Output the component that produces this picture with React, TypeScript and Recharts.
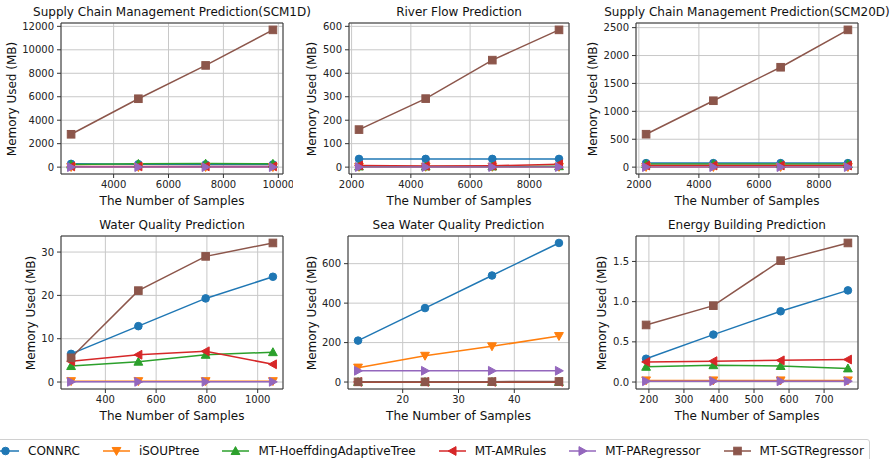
import React from 'react';
import { LineChart, Line, XAxis, YAxis, CartesianGrid, ReferenceArea } from 'recharts';

const SERIES = ['CONNRC', 'iSOUPtree', 'MT-HoeffdingAdaptiveTree', 'MT-AMRules', 'MT-PARegressor', 'MT-SGTRegressor'];
const COLORS = ['#1f77b4', '#ff7f0e', '#2ca02c', '#d62728', '#9467bd', '#8c564b'];
const MARKERS = ['circle', 'down', 'up', 'left', 'right', 'square'];

// samples per panel, then one list of values per series (same order as SERIES)
const scm1dSamples = [2451, 4902, 7352, 9803];
const scm1dMemory = [
    [280, 250, 230, 230],
    [5, 5, 5, 5],
    [220, 280, 300, 290],
    [60, 60, 60, 60],
    [2, 2, 2, 2],
    [2800, 5830, 8670, 11700],
];

const riverSamples = [2250, 4500, 6750, 9000];
const riverMemory = [
    [35, 35, 35, 35],
    [1, 1, 1, 1],
    [3, 3, 3, 4],
    [7, 5, 6, 12],
    [0.5, 0.5, 0.5, 0.5],
    [160, 292, 456, 585],
];

const scm20dSamples = [2241, 4483, 6724, 8966];
const scm20dMemory = [
    [72, 72, 72, 72],
    [2, 2, 2, 2],
    [55, 55, 55, 55],
    [29, 29, 29, 29],
    [1, 1, 1, 1],
    [590, 1190, 1790, 2460],
];

const waterSamples = [265, 530, 795, 1060];
const waterMemory = [
    [6.5, 12.9, 19.3, 24.3],
    [0.2, 0.2, 0.2, 0.2],
    [3.7, 4.7, 6.3, 6.9],
    [4.8, 6.3, 7.1, 4.1],
    [0.05, 0.05, 0.05, 0.05],
    [5.6, 21.1, 29.0, 32.1],
];

const seaSamples = [12, 24, 36, 48];
const seaMemory = [
    [210, 375, 540, 705],
    [73, 133, 181, 233],
    [0.5, 0.5, 0.5, 0.5],
    [0.8, 0.8, 0.8, 0.8],
    [57, 57, 57, 57],
    [1, 1, 2, 3],
];

const energySamples = [192, 384, 576, 768];
const energyMemory = [
    [0.29, 0.59, 0.88, 1.14],
    [0.02, 0.02, 0.02, 0.02],
    [0.19, 0.21, 0.2, 0.17],
    [0.25, 0.26, 0.27, 0.28],
    [0.01, 0.01, 0.01, 0.01],
    [0.71, 0.95, 1.51, 1.73],
];

const FONT = '"DejaVu Sans", sans-serif';

// matplotlib style 5% padding around the data
const pad = (lo: number, hi: number): [number, number] => {
    const m = (hi - lo) * 0.05;
    return [lo - m, hi + m];
};

const Marker = ({ kind, cx, cy, color }: { kind: string; cx: number; cy: number; color: string }) => {
    const r = 3.8;
    if (kind === 'circle') return <circle cx={cx} cy={cy} r={r} fill={color} stroke={color} />;
    if (kind === 'square') return <rect x={cx - r} y={cy - r} width={r * 2} height={r * 2} fill={color} stroke={color} />;
    let pts = '';
    const t = 4.4;
    if (kind === 'down') pts = `${cx - t},${cy - t * 0.8} ${cx + t},${cy - t * 0.8} ${cx},${cy + t}`;
    if (kind === 'up') pts = `${cx - t},${cy + t * 0.8} ${cx + t},${cy + t * 0.8} ${cx},${cy - t}`;
    if (kind === 'left') pts = `${cx + t * 0.8},${cy - t} ${cx + t * 0.8},${cy + t} ${cx - t},${cy}`;
    if (kind === 'right') pts = `${cx - t * 0.8},${cy - t} ${cx - t * 0.8},${cy + t} ${cx + t},${cy}`;
    return <polygon points={pts} fill={color} stroke={color} />;
};

interface PanelProps {
    title: string;
    samples: number[];
    memory: number[][];
    xTicks: number[];
    yTicks: number[];
    left: number;
    top: number;
    width: number;
    height: number;
    ylabelX: number;
    yFmt?: (v: number) => string;
}

const Panel: React.FC<PanelProps> = ({ title, samples, memory, xTicks, yTicks, left, top, width, height, ylabelX, yFmt }) => {
    const data = samples.map((s, i) => {
        const row: Record<string, number> = { x: s };
        SERIES.forEach((name, k) => { row[name] = memory[k][i]; });
        return row;
    });
    const all = memory.flat();
    const xDom = pad(Math.min(...samples), Math.max(...samples));
    const yDom = pad(Math.min(0, ...all), Math.max(...all));
    const tickStyle = { fontSize: 10, fill: '#222', fontFamily: FONT };
    const cx = left + width / 2;
    return (
        <>
            <div style={{ position: 'absolute', left: cx, top: top - 11, transform: 'translate(-50%,-50%)', fontSize: 12, whiteSpace: 'nowrap' }}>{title}</div>
            <div style={{ position: 'absolute', left: cx, top: top + height + 27, transform: 'translate(-50%,-50%)', fontSize: 12, whiteSpace: 'nowrap' }}>The Number of Samples</div>
            <div style={{ position: 'absolute', left: ylabelX, top: top + height / 2, transform: 'translate(-50%,-50%) rotate(-90deg)', fontSize: 12, whiteSpace: 'nowrap' }}>Memory Used (MB)</div>
            <div style={{ position: 'absolute', left: left - 60, top: top - 10 }}>
                <LineChart width={width + 70} height={height + 40} data={data} margin={{ top: 10, right: 10, left: 0, bottom: 0 }}>
                    <CartesianGrid stroke="#c8c8c8" strokeWidth={1} />
                    <XAxis dataKey="x" type="number" domain={xDom} ticks={xTicks} allowDataOverflow
                        axisLine={false} tickLine={{ stroke: '#333' }} tickSize={4} tickMargin={3} height={30} tick={tickStyle} />
                    <YAxis type="number" domain={yDom} ticks={yTicks} allowDataOverflow width={60}
                        axisLine={false} tickLine={{ stroke: '#333' }} tickSize={4} tickMargin={3} tick={tickStyle}
                        tickFormatter={yFmt} />
                    {SERIES.map((name, k) => (
                        <Line key={name} dataKey={name} stroke={COLORS[k]} strokeWidth={1.5} isAnimationActive={false}
                            dot={(p: any) => <Marker key={`${name}-${p.index}`} kind={MARKERS[k]} cx={p.cx} cy={p.cy} color={COLORS[k]} />} />
                    ))}
                    <ReferenceArea x1={xDom[0]} x2={xDom[1]} y1={yDom[0]} y2={yDom[1]} fill="none" fillOpacity={0} stroke="#333" strokeWidth={1} strokeOpacity={1} />
                </LineChart>
            </div>
        </>
    );
};

const LegendHandle = ({ k }: { k: number }) => (
    <svg width={27} height={12} style={{ overflow: 'visible' }}>
        <line x1={0} y1={6} x2={27} y2={6} stroke={COLORS[k]} strokeWidth={1.5} />
        <Marker kind={MARKERS[k]} cx={13.5} cy={6} color={COLORS[k]} />
    </svg>
);

export default function App() {
    return (
        <div style={{ position: 'absolute', left: 0, top: 0, width: 895, height: 459, overflow: 'hidden', background: '#fff', fontFamily: FONT, color: '#111' }}>
            <Panel title="Supply Chain Management Prediction(SCM1D)" samples={scm1dSamples} memory={scm1dMemory}
                xTicks={[4000, 6000, 8000, 10000]} yTicks={[0, 2000, 4000, 6000, 8000, 10000, 12000]}
                left={61} top={23} width={222} height={151} ylabelX={12} />
            <Panel title="River Flow Prediction" samples={riverSamples} memory={riverMemory}
                xTicks={[2000, 4000, 6000, 8000]} yTicks={[0, 100, 200, 300, 400, 500, 600]}
                left={349} top={23} width={220} height={151} ylabelX={312} />
            <Panel title="Supply Chain Management Prediction(SCM20D)" samples={scm20dSamples} memory={scm20dMemory}
                xTicks={[2000, 4000, 6000, 8000]} yTicks={[0, 500, 1000, 1500, 2000, 2500]}
                left={636} top={23} width={222} height={151} ylabelX={593} />
            <Panel title="Water Quality Prediction" samples={waterSamples} memory={waterMemory}
                xTicks={[400, 600, 800, 1000]} yTicks={[0, 10, 20, 30]}
                left={61} top={236} width={222} height={153} ylabelX={31} />
            <Panel title="Sea Water Quality Prediction" samples={seaSamples} memory={seaMemory}
                xTicks={[20, 30, 40]} yTicks={[0, 200, 400, 600]}
                left={348} top={236} width={221} height={153} ylabelX={312} />
            <Panel title="Energy Building Prediction" samples={energySamples} memory={energyMemory}
                xTicks={[200, 300, 400, 500, 600, 700]} yTicks={[0, 0.5, 1, 1.5]}
                left={636} top={236} width={222} height={153} ylabelX={602} yFmt={(v) => v.toFixed(1)} />
            <div style={{ position: 'absolute', left: -14, top: 439, width: 884, height: 34, border: '1px solid #d0d0d0', borderRadius: 3, boxSizing: 'border-box' }} />
            <div style={{ position: 'absolute', left: -8, top: 444, display: 'flex', alignItems: 'center', fontSize: 12, whiteSpace: 'nowrap' }}>
                {SERIES.map((name, k) => (
                    <div key={name} style={{ display: 'flex', alignItems: 'center', marginRight: 23 }}>
                        <LegendHandle k={k} />
                        <span style={{ marginLeft: 9 }}>{name}</span>
                    </div>
                ))}
            </div>
        </div>
    );
}
